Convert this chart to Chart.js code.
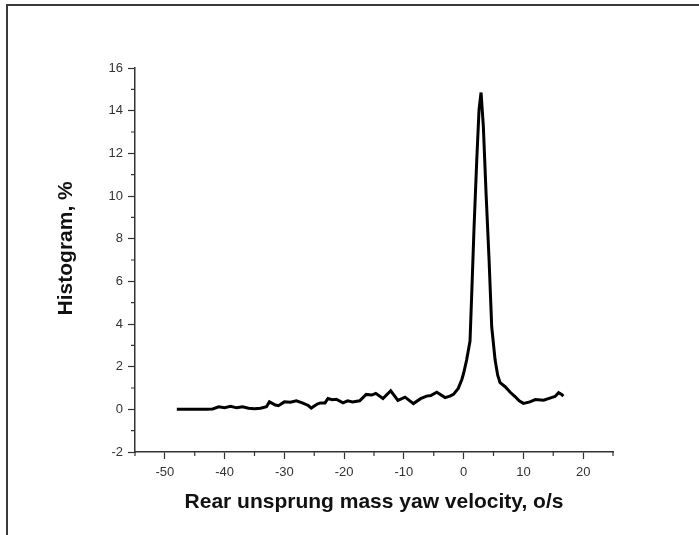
<!DOCTYPE html>
<html>
<head>
<meta charset="utf-8">
<script src="https://cdn.jsdelivr.net/npm/chart.js@4.4.1/dist/chart.umd.min.js"></script>
<style>
  html, body { margin: 0; padding: 0; background: #fff; }
  #wrap { position: relative; width: 699px; height: 535px; }
  #frame { position: absolute; left: 6px; top: 4px; right: -10px; bottom: -10px;
           border-top: 2px solid #3a3a3a; border-left: 2px solid #3a3a3a; pointer-events: none; }
  canvas { position: absolute; left: 0; top: 0; }
</style>
</head>
<body>
<div id="wrap">
  <canvas id="chart" width="699" height="535"></canvas>
  <div id="frame"></div>
</div>
<script>
// histogram values
const xVals = [-48, -47, -46, -45, -44, -43, -42, -41, -40, -39, -38, -37, -36, -35, -34, -33,
  -32.5, -31.5, -31, -30, -29, -28, -27, -26, -25.5, -24.5, -24, -23.2, -22.7, -22, -21.3,
  -20.2, -19.4, -18.6, -17.4, -16.3, -15.4, -14.7, -13.5, -12.2, -11, -9.8, -8.4, -7.2,
  -6.2, -5.5, -4.5, -3.1, -2.3, -1.7, -0.9, -0.3, 0, 0.5, 1.07, 1.36, 1.75, 2.2, 2.58,
  2.92, 3.3, 3.76, 4.26, 4.7, 5.27, 5.7, 6.1, 6.95, 7.8, 8.6, 9.3, 10.0, 11.1, 12.0,
  13.4, 14.8, 15.3, 15.9, 16.4, 16.7];
const yVals = [0, 0, 0, 0, 0, 0, 0.02, 0.12, 0.08, 0.14, 0.07, 0.12, 0.05, 0.03, 0.05, 0.12,
  0.35, 0.2, 0.17, 0.35, 0.33, 0.4, 0.3, 0.18, 0.06, 0.25, 0.3, 0.3, 0.51, 0.45, 0.47,
  0.3, 0.4, 0.35, 0.4, 0.7, 0.67, 0.75, 0.51, 0.87, 0.42, 0.57, 0.27, 0.5,
  0.62, 0.65, 0.8, 0.55, 0.62, 0.7, 0.98, 1.4, 1.69, 2.31, 3.2, 5.44, 8.57, 11.7, 14.05,
  14.85, 13.26, 10.1, 7.0, 3.87, 2.31, 1.6, 1.25, 1.06, 0.8, 0.6, 0.4, 0.28, 0.35, 0.46,
  0.43, 0.56, 0.6, 0.78, 0.7, 0.62];

const xTicks = [-50, -40, -30, -20, -10, 0, 10, 20];
const yTicks = [-2, 0, 2, 4, 6, 8, 10, 12, 14, 16];
const xTitle = 'Rear unsprung mass yaw velocity, o/s';
const yTitle = 'Histogram, %';

const axisColor = '#333';
const tickFont = { family: "'Liberation Sans', Arial, sans-serif", size: 13 };
const titleFont = { family: "'Liberation Sans', Arial, sans-serif", size: 21, weight: 'bold' };

// short minor ticks half way between the labelled ones
const minorTicks = {
    id: 'minorTicks',
    afterDraw(chart) {
        const ctx = chart.ctx;
        const xs = chart.scales.x, ys = chart.scales.y;
        ctx.save();
        ctx.strokeStyle = axisColor;
        ctx.lineWidth = 1.2;
        ctx.beginPath();
        [xTicks[0] - 5].concat(xTicks.map(v => v + 5)).forEach(v => {
            if (v < xs.min || v > xs.max) return;
            const px = xs.getPixelForValue(v);
            ctx.moveTo(px, xs.top); ctx.lineTo(px, xs.top + 4);
        });
        yTicks.map(v => v + 1).forEach(v => {
            if (v > ys.max) return;
            const py = ys.getPixelForValue(v);
            ctx.moveTo(ys.right, py); ctx.lineTo(ys.right - 4, py);
        });
        ctx.stroke();
        ctx.restore();
    }
};

new Chart(document.getElementById('chart'), {
    type: 'scatter',
    data: {
        datasets: [{
            data: xVals.map((x, i) => ({ x: x, y: yVals[i] })),
            showLine: true,
            borderColor: '#000',
            borderWidth: 3,
            pointRadius: 0,
            tension: 0,
            fill: false
        }]
    },
    plugins: [minorTicks],
    options: {
        responsive: false,
        animation: false,
        events: [],
        layout: { padding: { left: 54, top: 68, right: 86, bottom: 20 } },
        plugins: { legend: { display: false }, tooltip: { enabled: false } },
        scales: {
            x: {
                type: 'linear',
                min: -55, max: 25,
                afterBuildTicks: s => { s.ticks = xTicks.map(v => ({ value: v })); },
                afterFit: s => { s.height = 63; },
                grid: { drawOnChartArea: false, tickLength: 7, tickColor: axisColor, tickWidth: 1.2 },
                border: { color: axisColor, width: 1.5 },
                ticks: { color: '#333', font: tickFont, padding: 6, maxRotation: 0 },
                title: { display: true, text: xTitle, color: '#111', font: titleFont, padding: 0 }
            },
            y: {
                min: -2, max: 16,
                afterBuildTicks: s => { s.ticks = yTicks.map(v => ({ value: v })); },
                afterFit: s => { s.width = 81; },
                grid: { drawOnChartArea: false, tickLength: 7, tickColor: axisColor, tickWidth: 1.2 },
                border: { color: axisColor, width: 1.5 },
                ticks: { color: '#333', font: tickFont, padding: 5 },
                // leading spaces lift the rotated title a little above the axis middle
                title: { display: true, text: '    ' + yTitle, color: '#111', font: titleFont, padding: 0 }
            }
        }
    }
});
</script>
</body>
</html>
